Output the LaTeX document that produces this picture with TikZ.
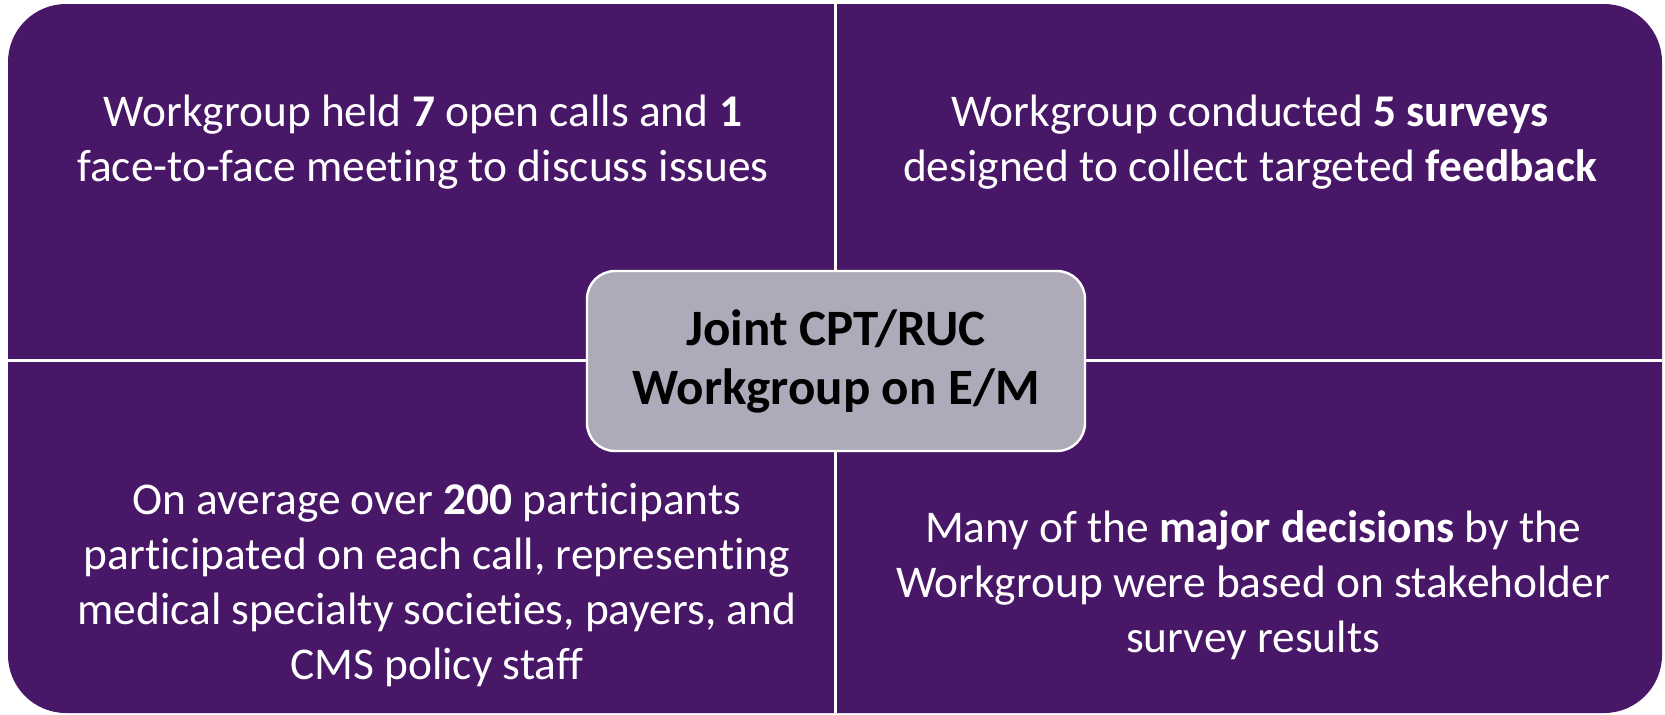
\documentclass[tikz,border=0pt]{standalone}
\usepackage{fontspec}
\setmainfont{Carlito}[Ligatures={NoCommon,NoRare,NoContextual}]
\usetikzlibrary{positioning}
\definecolor{kplum}{RGB}{73,23,104}
\definecolor{klilac}{RGB}{175,170,186}

\begin{document}
\begin{tikzpicture}[x=0.5pt, y=-0.5pt,
        quadtext/.style={text=white, align=center, font=\fontsize{22.7}{27.4}\selectfont},
        hubbox/.style={draw=white, line width=1.2pt, fill=klilac, rounded corners=14pt,
            minimum width=249pt, minimum height=90pt, align=center,
            font=\fontsize{25.5}{29.5}\selectfont\bfseries}]
        \useasboundingbox (0,0) rectangle (1665,714);

        % background
        \fill[kplum, rounded corners=29pt] (8,4) rectangle (1662,713);

        % dividers
        \draw[white, line width=1.5pt] (835,4) -- (835,713);
        \draw[white, line width=1.5pt] (8,360) -- (1662,360);

        % centre box
        \node[hubbox] (hub) at (836,361) {Joint CPT/RUC\\Workgroup on E/M};

        % quadrant texts
        \node[quadtext] (calls) at (423,142) {Workgroup held \textbf{7} open calls and \textbf{1}\\face-to-face meeting to discuss issues};
        \node[quadtext] (surveys) at (1250,142) {Workgroup conducted \textbf{5 surveys}\\designed to collect targeted \textbf{feedback}};
        \node[quadtext] (participants) at (437,585) {On average over \textbf{200} participants\\participated on each call, representing\\medical specialty societies, payers, and\\CMS policy staff};
        \node[quadtext] (decisions) at (1253,585) {Many of the \textbf{major decisions} by the\\Workgroup were based on stakeholder\\survey results};
\end{tikzpicture}
\end{document}
